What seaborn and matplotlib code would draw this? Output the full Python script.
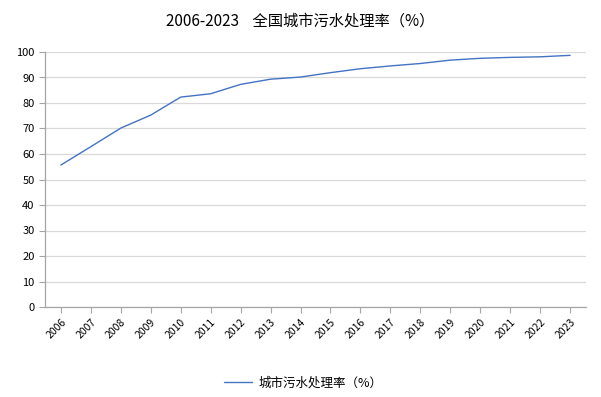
import matplotlib
matplotlib.use("Agg")
import matplotlib.pyplot as plt
import seaborn as sns
import pandas as pd

years = [str(y) for y in range(2006, 2024)]
rates = [55.67, 62.87, 70.16, 75.25, 82.31, 83.63, 87.30, 89.34, 90.18,
         91.90, 93.44, 94.54, 95.49, 96.81, 97.53, 97.89, 98.11, 98.69]
series_name = "城市污水处理率（%）"
title = "2006-2023    全国城市污水处理率（%）"

sns.set_theme(style="white")
plt.rcParams['font.family'] = ['Noto Sans CJK SC', 'DejaVu Sans']

df = pd.DataFrame({"year": years, "rate": rates, "pos": range(len(years))})

fig = plt.figure(figsize=(6.01, 3.97), dpi=100)
ax = fig.add_axes([45/601, (397-307)/397, (586-45)/601, (307-52)/397])

sns.lineplot(data=df, x="pos", y="rate", ax=ax, color="#4472C4",
             linewidth=1.0, label=series_name)

ax.set_xlim(-0.53, len(years) - 1 + 0.53)
ax.set_ylim(0, 100)
ax.set_yticks(range(0, 101, 10))
ax.set_xticks(range(len(years)))
ax.set_xticklabels(years, rotation=45, ha="right", rotation_mode="anchor")
ax.tick_params(axis="x", labelsize=7.5, colors="#A6A6A6", length=4, width=0.8,
               direction="out", pad=3, bottom=True)
ax.tick_params(axis="y", labelsize=8, colors="#A6A6A6", length=4, width=0.8,
               direction="out", left=True)
for lbl in ax.get_xticklabels() + ax.get_yticklabels():
    lbl.set_color("black")
ax.grid(axis="y", color="#D9D9D9", linewidth=0.9)
ax.set_axisbelow(True)
for s in ["top", "right"]:
    ax.spines[s].set_visible(False)
for s in ["left", "bottom"]:
    ax.spines[s].set_color("#A6A6A6")
    ax.spines[s].set_linewidth(0.9)
ax.set_xlabel("")
ax.set_ylabel("")

leg = ax.legend(loc="center", bbox_to_anchor=(0.5 - 12.5/541, (307-383)/255),
                frameon=False, fontsize=9, handlelength=2.3, handletextpad=0.5)
for t in leg.get_texts():
    t.set_color("black")
fig.text(0.5, 1 - 21/397, title, ha="center", va="center", fontsize=11,
         color="black")

fig.savefig("out.png", dpi=100, facecolor="white")
